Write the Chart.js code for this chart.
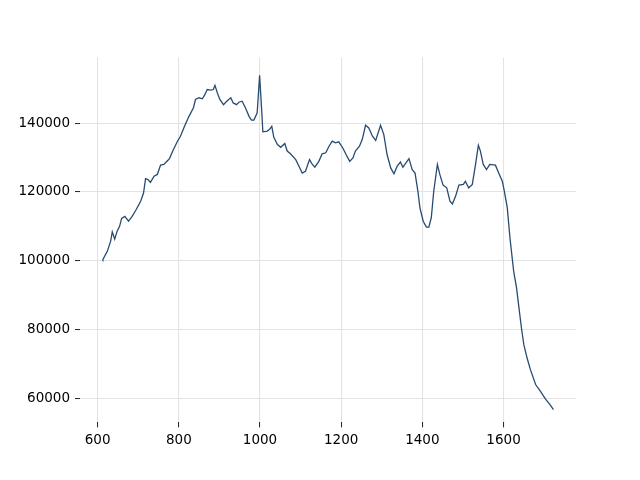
<!DOCTYPE html>
<html>
<head>
<meta charset="utf-8">
<script src="https://cdn.jsdelivr.net/npm/chart.js@4"></script>
<style>
  body { margin: 0; background: #fff; }
</style>
</head>
<body>
<canvas id="line-chart" width="640" height="480"></canvas>
<script>
// values
const xValues = [612, 613, 624, 632, 636, 642, 648, 654, 659, 667, 676, 685, 695, 706, 713, 718, 724, 730, 739, 747,
    755, 763, 772, 777, 785, 796, 804, 814, 825, 836, 841, 850, 858, 864, 870, 878, 885, 889, 895, 901,
    910, 918, 928, 934, 942, 948, 956, 964, 973, 979, 985, 993, 999, 1004, 1007, 1018, 1024, 1029, 1034, 1043,
    1051, 1061, 1067, 1075, 1088, 1096, 1104, 1112, 1122, 1129, 1135, 1145, 1153, 1162, 1170, 1178, 1186, 1194, 1204, 1212,
    1221, 1229, 1235, 1245, 1252, 1260, 1268, 1277, 1285, 1297, 1305, 1313, 1322, 1330, 1338, 1346, 1352, 1360, 1367, 1375,
    1382, 1389, 1394, 1402, 1410, 1416, 1422, 1428, 1437, 1443, 1451, 1460, 1468, 1474, 1482, 1490, 1501, 1506, 1514, 1523,
    1531, 1538, 1543, 1550, 1558, 1566, 1580, 1588, 1597, 1602, 1609, 1616, 1625, 1632, 1638, 1644, 1650, 1658, 1666, 1679,
    1691, 1703, 1714, 1723];
const yValues = [100000, 100400, 102800, 105700, 108400, 106300, 108600, 110000, 112300, 112900, 111500, 112900, 114900, 117300, 119700, 123900, 123600, 122800, 124600, 125100,
    127800, 128000, 129100, 129700, 131900, 134600, 136200, 139100, 142000, 144500, 146900, 147400, 147100, 148300, 149800, 149600, 149800, 151000, 148800, 146900,
    145400, 146400, 147400, 145900, 145400, 146100, 146400, 144500, 142000, 140900, 140900, 143000, 153900, 144000, 137500, 137700, 138300, 139100, 135900, 133800,
    133000, 134100, 131900, 131100, 129400, 127500, 125500, 126000, 129400, 128000, 127200, 128900, 131100, 131400, 133300, 134800, 134300, 134600, 132800, 130900,
    128900, 129900, 131900, 133300, 135300, 139400, 138600, 136200, 135000, 139400, 136700, 130900, 127000, 125300, 127500, 128700, 127200, 128500, 129700, 126500,
    125500, 120200, 115400, 111500, 109800, 109800, 112500, 120200, 128000, 125100, 122000, 121200, 117300, 116500, 118800, 122000, 122200, 123100, 121200, 122200,
    128000, 133600, 131900, 128000, 126500, 128000, 127800, 125500, 123100, 120200, 115600, 106400, 96900, 92100, 86300, 80500, 75600, 71700, 68400, 64000,
    62000, 59800, 58200, 56700];
const xTicks = [600, 800, 1000, 1200, 1400, 1600];
const yTicks = [60000, 80000, 100000, 120000, 140000];

const points = xValues.map((x, i) => ({ x: x, y: yValues[i] }));
const tickFont = { family: 'DejaVu Sans', size: 13.5 };

let chart = new Chart(document.getElementById('line-chart').getContext('2d'), {
    type: 'line',
    data: {
        datasets: [{
            data: points,
            borderColor: '#284b70',
            borderWidth: 1.3,
            pointRadius: 0,
            tension: 0,
            fill: false
        }]
    },
    options: {
        responsive: false,
        animation: false,
        layout: { padding: { top: 57.6, right: 64, left: 0, bottom: 0 } },
        plugins: { legend: { display: false }, tooltip: { enabled: false } },
        scales: {
            x: {
                type: 'linear',
                min: 556.5,
                max: 1778.5,
                afterFit: (s) => { s.height = 57.6; },
                afterBuildTicks: (s) => { s.ticks = xTicks.map(v => ({ value: v })); },
                border: { display: false },
                grid: { color: '#e3e3e3', lineWidth: 1.1, tickColor: '#222', tickLength: 5, tickWidth: 1 },
                ticks: { color: '#000', font: tickFont, padding: 5, maxRotation: 0, callback: (v) => String(v) }
            },
            y: {
                min: 52980,
                max: 159080,
                afterFit: (s) => { s.width = 80; },
                afterBuildTicks: (s) => { s.ticks = yTicks.map(v => ({ value: v })); },
                border: { display: false },
                grid: { color: '#e3e3e3', lineWidth: 1.1, tickColor: '#222', tickLength: 5, tickWidth: 1 },
                ticks: { color: '#000', font: tickFont, padding: 5, callback: (v) => String(v) }
            }
        }
    }
});
</script>
</body>
</html>
